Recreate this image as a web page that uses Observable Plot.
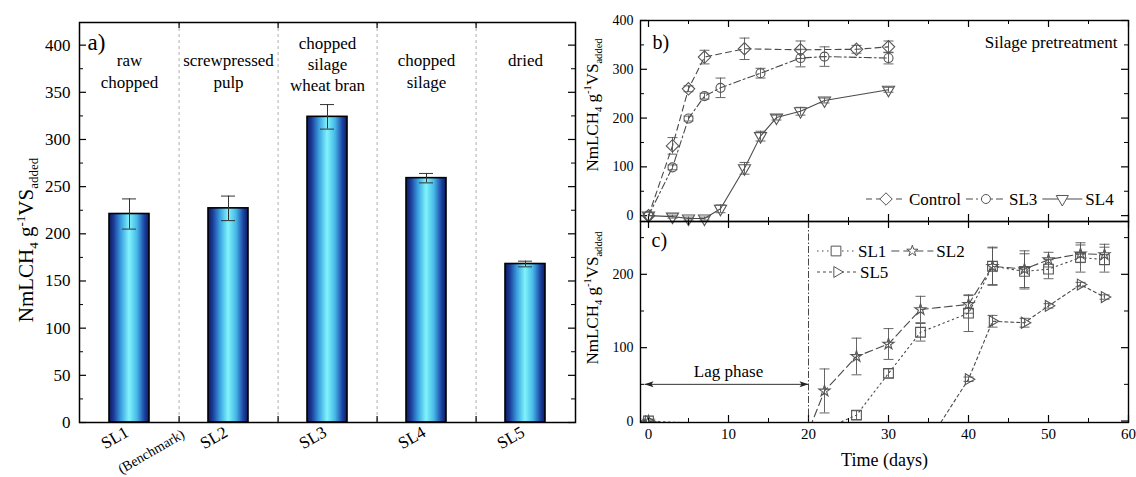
<!DOCTYPE html>
<html><head><meta charset="utf-8">
<script src="https://cdn.jsdelivr.net/npm/d3@7"></script>
<script src="https://cdn.jsdelivr.net/npm/@observablehq/plot@0.6"></script>
<style>
body{margin:0;background:#fff;}
#wrap{position:relative;width:1136px;height:477px;background:#fff;font-family:"Liberation Serif";overflow:hidden;}
.panel{position:absolute;}
.panel text{font-family:"Liberation Serif";}
.ytitle{position:absolute;transform:translate(-50%,-50%) rotate(-90deg);white-space:nowrap;font-family:"Liberation Serif";color:#000;line-height:1;}
.ytitle sub,.ytitle sup{font-size:62%;}
</style></head><body><div id="wrap"></div>
<script>
// ---------------- Panel a data ----------------
const barCats = ["SL1", "SL2", "SL3", "SL4", "SL5"];
const barValues = [221, 227, 324, 259, 168];
const barErrors = [16, 13, 13, 5, 3];
const barTopLabels = ["raw\nchopped", "screwpressed\npulp", "chopped\nsilage\nwheat bran", "chopped\nsilage", "dried"];
const barSubLabels = ["(Benchmark)", "", "", "", ""];
const barYTicks = [0, 50, 100, 150, 200, 250, 300, 350, 400];
const barYMinor = [25, 75, 125, 175, 225, 275, 325, 375];

// ---------------- Panel b data ----------------
const ctrlDays = [0, 3, 5, 7, 12, 19, 26, 30];
const ctrlVals = [0, 143, 260, 325, 342, 340, 341, 346];
const ctrlErr  = [0, 17, 6, 14, 22, 18, 8, 12];
const sl3Days = [0, 3, 5, 7, 9, 14, 19, 22, 30];
const sl3Vals = [0, 99, 199, 245, 262, 292, 323, 326, 323];
const sl3Err  = [0, 5, 5, 6, 20, 10, 18, 20, 12];
const sl4Days = [0, 3, 5, 7, 9, 12, 14, 16, 19, 22, 30];
const sl4Vals = [0, -2, -6, -6, 14, 97, 163, 201, 214, 236, 258];
const sl4Err  = [0, 3, 3, 3, 8, 12, 10, 5, 8, 5, 5];
const bYTicks = [0, 100, 200, 300, 400];
const bYMinor = [50, 150, 250, 350];

// ---------------- Panel c data ----------------
const sl1Days = [0, 22, 26, 30, 34, 40, 43, 47, 50, 54, 57];
const sl1Vals = [0, -11, 8, 65, 121, 147, 211, 204, 207, 223, 220];
const sl1Err  = [0, 0, 6, 6, 12, 25, 26, 24, 13, 20, 17];
const sl2Days = [0, 19, 22, 26, 30, 34, 40, 43, 47, 50, 54, 57];
const sl2Vals = [0, -41, 41, 88, 105, 152, 159, 211, 207, 220, 228, 227];
const sl2Err  = [0, 0, 30, 25, 21, 18, 12, 25, 25, 10, 12, 14];
const sl5Days = [0, 34, 40, 43, 47, 50, 54, 57];
const sl5Vals = [0, -45, 57, 136, 134, 157, 186, 169];
const sl5Err  = [0, 0, 3, 8, 6, 3, 3, 3];
const cYTicks = [0, 100, 200];
const cYMinor = [50, 150, 250];
const dayMajor = [0, 10, 20, 30, 40, 50, 60];
const dayMinor = [5, 15, 25, 35, 45, 55];
const lagPhase = {start: -0.5, end: 20, y: 50, label: "Lag phase"};

// ---------------- helpers ----------------
const FONT = "Liberation Serif";
const wrap = document.getElementById("wrap");
function place(el, left, top) { el.classList.add("panel"); el.style.left = left + "px"; el.style.top = top + "px"; wrap.appendChild(el); }
const baseStyle = {fontFamily: FONT, fontSize: "16px", background: "transparent", overflow: "visible", color: "#000"};
const T = {fontFamily: FONT};

const symTriDown = {draw(ctx, size) { const s = Math.sqrt(size) * 0.6824, t = s / 2, u = s * Math.sqrt(3) / 2; ctx.moveTo(0, s); ctx.lineTo(u, -t); ctx.lineTo(-u, -t); ctx.closePath(); }};
const symTriRight = {draw(ctx, size) { const s = Math.sqrt(size) * 0.6824, t = s / 2, u = s * Math.sqrt(3) / 2; ctx.moveTo(s, 0); ctx.lineTo(-t, u); ctx.lineTo(-t, -u); ctx.closePath(); }};
const symCap = {draw(ctx) { ctx.moveTo(-5, 0); ctx.lineTo(5, 0); }};
const headLeft = {draw(ctx) { ctx.moveTo(0, 0); ctx.lineTo(9, -3); ctx.lineTo(7, 0); ctx.lineTo(9, 3); ctx.closePath(); }};
const headRight = {draw(ctx) { ctx.moveTo(0, 0); ctx.lineTo(-9, -3); ctx.lineTo(-7, 0); ctx.lineTo(-9, 3); ctx.closePath(); }};

const styles = {
  Control: {symbol: d3.symbolDiamond2, r: 5.6, dash: "6,4"},
  SL3: {symbol: d3.symbolCircle, r: 4.5, dash: "7,3,2,3"},
  SL4: {symbol: symTriDown, r: 5.8, dash: null},
  SL1: {symbol: d3.symbolSquare2, r: 6.2, dash: "1.5,3.5"},
  SL2: {symbol: d3.symbolStar, r: 3.5, dash: "8,4"},
  SL5: {symbol: symTriRight, r: 5.2, dash: "3,3"}
};
function rows(series, days, vals, errs) { return days.map((d, i) => ({series, day: d, value: vals[i], err: errs[i]})); }
function seriesMarks(data, st, clip) {
  const withErr = data.filter(d => d.err > 0);
  return [
    Plot.line(data, {x: "day", y: "value", stroke: "#4a4a4a", strokeWidth: 1.1, strokeDasharray: st.dash || undefined, clip}),
    Plot.ruleX(withErr, {x: "day", y1: d => d.value - d.err, y2: d => d.value + d.err, stroke: "#555", strokeWidth: 0.9, clip}),
    Plot.dot(withErr, {x: "day", y: d => d.value - d.err, symbol: symCap, stroke: "#555", strokeWidth: 0.9, clip}),
    Plot.dot(withErr, {x: "day", y: d => d.value + d.err, symbol: symCap, stroke: "#555", strokeWidth: 0.9, clip}),
    Plot.dot(data, {x: "day", y: "value", symbol: st.symbol, r: st.r, stroke: "#555", fill: "none", strokeWidth: 1.1, clip})
  ];
}
function frameTicks(fw, fh, xMaj, xMin, yMaj, yMin) {
  return [
    Plot.ruleY(yMaj, {y: d => d, insetRight: fw - 7, strokeWidth: 1.2}),
    Plot.ruleY(yMaj, {y: d => d, insetLeft: fw - 7, strokeWidth: 1.2}),
    Plot.ruleY(yMin, {y: d => d, insetRight: fw - 4, strokeWidth: 1}),
    Plot.ruleY(yMin, {y: d => d, insetLeft: fw - 4, strokeWidth: 1}),
    Plot.ruleX(xMaj, {x: d => d, insetTop: fh - 7, strokeWidth: 1.2}),
    Plot.ruleX(xMaj, {x: d => d, insetBottom: fh - 7, strokeWidth: 1.2}),
    Plot.ruleX(xMin, {x: d => d, insetTop: fh - 4, strokeWidth: 1}),
    Plot.ruleX(xMin, {x: d => d, insetBottom: fh - 4, strokeWidth: 1})
  ];
}

// ---------------- Panel a ----------------
const A = {width: 590, height: 477, ml: 79, mr: 15, mt: 22, mb: 55};
const aFW = A.width - A.ml - A.mr, aFH = A.height - A.mt - A.mb;
const step = aFW / barCats.length;
const bars = barCats.map((c, i) => ({cat: c, value: barValues[i], err: barErrors[i], top: barTopLabels[i], sub: barSubLabels[i], lines: barTopLabels[i].split("\n").length}));
const dividers = barCats.slice(0, -1);
const plotA = Plot.plot({
  width: A.width, height: A.height, marginLeft: A.ml, marginRight: A.mr, marginTop: A.mt, marginBottom: A.mb,
  style: baseStyle,
  x: {domain: barCats, paddingInner: 0.6, paddingOuter: 0.3, axis: null},
  y: {domain: [0, 424], axis: null},
  marks: [
    Plot.ruleX(dividers, {x: d => d, dx: step / 2, stroke: "#9a9a9a", strokeDasharray: "3,3", strokeWidth: 0.8}),
    Plot.barY(bars, {x: "cat", y: "value", fill: "url(#barGrad)", stroke: "#000", strokeWidth: 1.6}),
    Plot.ruleX(bars, {x: "cat", y1: d => d.value - d.err, y2: d => d.value + d.err, stroke: "#333", strokeWidth: 1}),
    Plot.tickY(bars, {x: "cat", y: d => d.value - d.err, insetLeft: 13, insetRight: 13, stroke: "#333", strokeWidth: 1}),
    Plot.tickY(bars, {x: "cat", y: d => d.value + d.err, insetLeft: 13, insetRight: 13, stroke: "#333", strokeWidth: 1}),
    Plot.ruleY(barYTicks, {y: d => d, insetRight: aFW - 7, strokeWidth: 1.2}),
    Plot.ruleY(barYTicks, {y: d => d, insetLeft: aFW - 7, strokeWidth: 1.2}),
    Plot.ruleY(barYMinor, {y: d => d, insetRight: aFW - 4, strokeWidth: 1}),
    Plot.ruleY(barYMinor, {y: d => d, insetLeft: aFW - 4, strokeWidth: 1}),
    Plot.ruleX(dividers, {x: d => d, dx: step / 2, insetTop: aFH - 6, strokeWidth: 1.2}),
    Plot.ruleX(dividers, {x: d => d, dx: step / 2, insetBottom: aFH - 6, strokeWidth: 1.2}),
    Plot.frame({stroke: "#000", strokeWidth: 1.5}),
    Plot.axisY({ticks: barYTicks, tickSize: 0, tickPadding: 9, fontSize: 17, label: null, ...T}),
    Plot.text(bars.filter(d => d.lines < 3), {x: "cat", text: "top", frameAnchor: "top", lineAnchor: "top", dy: 28, fontSize: 17, lineHeight: 1.3, ...T}),
    Plot.text(bars.filter(d => d.lines >= 3), {x: "cat", text: "top", frameAnchor: "top", lineAnchor: "top", dy: 11, fontSize: 17, lineHeight: 1.25, ...T}),
    Plot.text(bars, {x: "cat", text: "cat", frameAnchor: "bottom", rotate: -30, dx: -12, dy: 20, fontSize: 17, ...T}),
    Plot.text(bars.filter(d => d.sub), {x: "cat", text: "sub", frameAnchor: "bottom", rotate: -30, dx: 24, dy: 33, fontSize: 14, ...T}),
    Plot.text(["a)"], {text: d => d, frameAnchor: "top-left", textAnchor: "start", lineAnchor: "top", dx: 8, dy: 11, fontSize: 23, ...T})
  ]
});
const defs = d3.select(plotA).insert("defs", ":first-child");
const grad = defs.append("linearGradient").attr("id", "barGrad").attr("x1", "0").attr("x2", "1").attr("y1", "0").attr("y2", "0");
[[0, "#0c1a5a"], [0.12, "#1c3c9a"], [0.3, "#3aa0e0"], [0.5, "#80f4fb"], [0.7, "#46b8e8"], [0.88, "#1d46a6"], [1, "#0c1a5a"]]
  .forEach(([o, c]) => grad.append("stop").attr("offset", o).attr("stop-color", c));
place(plotA, 0, 0);

// ---------------- Panel b ----------------
const B = {width: 556, height: 221, ml: 60, mr: 8, mt: 20, mb: 0};
const bFW = B.width - B.ml - B.mr, bFH = B.height - B.mt - B.mb;
const plotB = Plot.plot({
  width: B.width, height: B.height, marginLeft: B.ml, marginRight: B.mr, marginTop: B.mt, marginBottom: B.mb,
  style: baseStyle,
  x: {domain: [-1, 60], axis: null},
  y: {domain: [-12, 400], axis: null},
  marks: [
    ...frameTicks(bFW, bFH, dayMajor, dayMinor, bYTicks, bYMinor),
    ...seriesMarks(rows("Control", ctrlDays, ctrlVals, ctrlErr), styles.Control, false),
    ...seriesMarks(rows("SL3", sl3Days, sl3Vals, sl3Err), styles.SL3, false),
    ...seriesMarks(rows("SL4", sl4Days, sl4Vals, sl4Err), styles.SL4, false),
    Plot.frame({stroke: "#000", strokeWidth: 1.4}),
    Plot.axisY({ticks: bYTicks, tickSize: 0, tickPadding: 7, fontSize: 14, label: null, ...T}),
    Plot.text(["b)"], {text: d => d, frameAnchor: "top-left", textAnchor: "start", lineAnchor: "middle", dx: 12, dy: 22, fontSize: 20, ...T}),
    Plot.text(["Silage pretreatment"], {text: d => d, frameAnchor: "top-right", textAnchor: "end", lineAnchor: "middle", dx: -11, dy: 22, fontSize: 17, ...T})
  ]
});
place(plotB, 580, 0);

// ---------------- Panel c ----------------
const C = {width: 556, height: 256, ml: 60, mr: 8, mt: 0, mb: 55};
const cFW = C.width - C.ml - C.mr, cFH = C.height - C.mt - C.mb;
const plotC = Plot.plot({
  width: C.width, height: C.height, marginLeft: C.ml, marginRight: C.mr, marginTop: C.mt, marginBottom: C.mb,
  style: baseStyle,
  x: {domain: [-1, 60], axis: null},
  y: {domain: [-2, 272], axis: null},
  marks: [
    ...frameTicks(cFW, cFH, dayMajor, dayMinor, cYTicks, cYMinor),
    Plot.ruleX([lagPhase.end], {x: d => d, stroke: "#333", strokeWidth: 0.9, strokeDasharray: "7,2,1.5,2"}),
    Plot.link([lagPhase], {x1: "start", x2: "end", y1: "y", y2: "y", stroke: "#333", strokeWidth: 1}),
    Plot.dot([lagPhase], {x: "start", y: "y", symbol: headLeft, fill: "#222", stroke: "none"}),
    Plot.dot([lagPhase], {x: "end", y: "y", symbol: headRight, fill: "#222", stroke: "none"}),
    Plot.text([lagPhase], {x: d => (Math.max(0, d.start) + d.end) / 2, y: "y", text: "label", dy: -13, fontSize: 17, ...T}),
    ...seriesMarks(rows("SL1", sl1Days, sl1Vals, sl1Err), styles.SL1, true),
    ...seriesMarks(rows("SL2", sl2Days, sl2Vals, sl2Err), styles.SL2, true),
    ...seriesMarks(rows("SL5", sl5Days, sl5Vals, sl5Err), styles.SL5, true),
    Plot.frame({stroke: "#000", strokeWidth: 1.4}),
    Plot.axisY({ticks: cYTicks, tickSize: 0, tickPadding: 7, fontSize: 14, label: null, ...T}),
    Plot.axisX({ticks: dayMajor, tickSize: 0, tickPadding: 6, fontSize: 15, label: null, ...T}),
    Plot.text(["c)"], {text: d => d, frameAnchor: "top-left", textAnchor: "start", lineAnchor: "middle", dx: 11, dy: 19, fontSize: 20, ...T}),
    Plot.text(["Time (days)"], {text: d => d, frameAnchor: "bottom", lineAnchor: "middle", dy: 38, fontSize: 18, ...T})
  ]
});
place(plotC, 580, 221);

// ---------------- y-axis titles ----------------
function yTitle(cx, cy, size) {
  const d = document.createElement("div");
  d.className = "ytitle";
  d.style.left = cx + "px"; d.style.top = cy + "px"; d.style.fontSize = size + "px";
  d.innerHTML = "NmLCH<sub>4</sub> g<sup>-1</sup>VS<sub>added</sub>";
  wrap.appendChild(d);
}
yTitle(27, 240, 21);
yTitle(594, 105, 17);
yTitle(594, 298, 17);

// ---------------- legends ----------------
const ov = d3.select(wrap).append("svg").attr("width", 1136).attr("height", 477)
  .style("position", "absolute").style("left", "0px").style("top", "0px").style("pointer-events", "none");
function legendRow(items, x0, y) {
  let x = x0;
  for (const it of items) {
    const st = styles[it.name];
    ov.append("line").attr("x1", x).attr("x2", x + it.len).attr("y1", y).attr("y2", y)
      .attr("stroke", "#4a4a4a").attr("stroke-width", 1.1).attr("stroke-dasharray", st.dash);
    ov.append("path").attr("d", d3.symbol(st.symbol, Math.PI * st.r * st.r)())
      .attr("transform", `translate(${x + it.len / 2},${y})`).attr("fill", "white").attr("stroke", "#555");
    const t = ov.append("text").attr("x", x + it.len + 3).attr("y", y).attr("dy", "0.35em")
      .style("font-family", FONT).style("font-size", "17px").text(it.name);
    x += it.len + 3 + t.node().getComputedTextLength() + 5;
  }
}
legendRow([{name: "Control", len: 40}, {name: "SL3", len: 40}, {name: "SL4", len: 40}], 866, 199);
legendRow([{name: "SL1", len: 38}, {name: "SL2", len: 42}], 817, 251);
legendRow([{name: "SL5", len: 40}], 817, 272);
</script></body></html>
